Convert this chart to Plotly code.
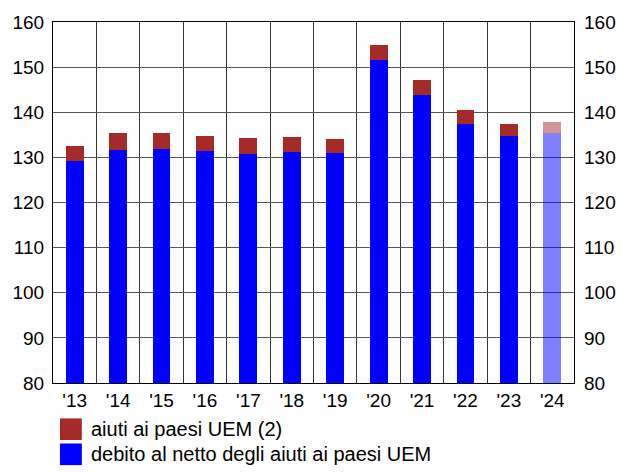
import plotly.graph_objects as go

# Anni e componenti del debito (valori in percentuale del PIL)
anni = ["'13", "'14", "'15", "'16", "'17", "'18", "'19", "'20", "'21", "'22", "'23", "'24"]
debito_netto = [129.1, 131.7, 131.9, 131.4, 130.8, 131.2, 131.0, 151.5, 143.9, 137.5, 134.7, 135.3]
aiuti_uem = [3.4, 3.7, 3.5, 3.3, 3.5, 3.3, 3.1, 3.5, 3.2, 3.1, 2.6, 2.5]

nome_aiuti = "aiuti ai paesi UEM (2)"
nome_netto = "debito al netto degli aiuti ai paesi UEM"

BLU = (0, 0, 255)
MARRONE = (165, 42, 42)
ultimo_stima = True  # l'ultimo anno è una previsione, disegnata in trasparenza


def colori(rgb):
    out = []
    for i in range(len(anni)):
        a = 0.5 if (ultimo_stima and i == len(anni) - 1) else 1.0
        out.append(f"rgba({rgb[0]},{rgb[1]},{rgb[2]},{a})")
    return out


FONT = "Liberation Sans, Arial, sans-serif"
FS = 19
FS_LEG = 20

fig = go.Figure()
fig.add_trace(go.Bar(x=anni, y=debito_netto, name=nome_netto,
                     marker=dict(color=colori(BLU), line=dict(width=0)),
                     width=0.41))
fig.add_trace(go.Bar(x=anni, y=aiuti_uem, name=nome_aiuti,
                     marker=dict(color=colori(MARRONE), line=dict(width=0)),
                     width=0.41))
# traccia invisibile che attiva l'asse di destra (stessa scala)
fig.add_trace(go.Scatter(x=anni, y=debito_netto, yaxis="y2", mode="lines",
                         line=dict(width=0), opacity=0, hoverinfo="skip",
                         showlegend=False))

fig.update_layout(
    barmode="stack",
    width=628, height=472,
    margin=dict(l=52, r=52, t=16, b=89),
    paper_bgcolor="white", plot_bgcolor="white",
    font=dict(family=FONT, size=FS, color="black"),
    showlegend=False,
    xaxis=dict(type="category", tickson="boundaries", showgrid=True,
               gridcolor="#333", gridwidth=1.2, ticks="",
               showline=True, linecolor="black", linewidth=1.2, mirror=True,
               tickfont=dict(size=FS)),
    yaxis=dict(range=[80, 160], dtick=10, showgrid=True, gridcolor="#555",
               gridwidth=1.3, ticks="", showline=True, linecolor="black",
               linewidth=1.2, mirror=True, ticklabelstandoff=4,
               zeroline=False, tickfont=dict(size=FS)),
    yaxis2=dict(range=[80, 160], dtick=10, overlaying="y", side="right",
                showgrid=False, ticks="", ticklabelstandoff=9,
                showline=False, zeroline=False, tickfont=dict(size=FS)),
)

# Legenda sotto il grafico: quadrati colorati e testo
voci = [(nome_aiuti, MARRONE), (nome_netto, BLU)]
for k, (nome, rgb) in enumerate(voci):
    y_top = 419 + k * 25.5
    fig.add_shape(type="rect", xref="paper", yref="paper",
                  x0=(59 - 52) / 524, x1=(81 - 52) / 524,
                  y0=(383 - y_top) / 367, y1=(383 - y_top - 22) / 367,
                  fillcolor=f"rgb{rgb}", line=dict(width=0))
    fig.add_annotation(text=nome, xref="paper", yref="paper",
                       x=(88 - 52) / 524, y=(383 - y_top - 11) / 367,
                       xanchor="left", yanchor="middle", showarrow=False,
                       font=dict(family=FONT, size=FS_LEG, color="black"))

fig.write_html("out.html")
